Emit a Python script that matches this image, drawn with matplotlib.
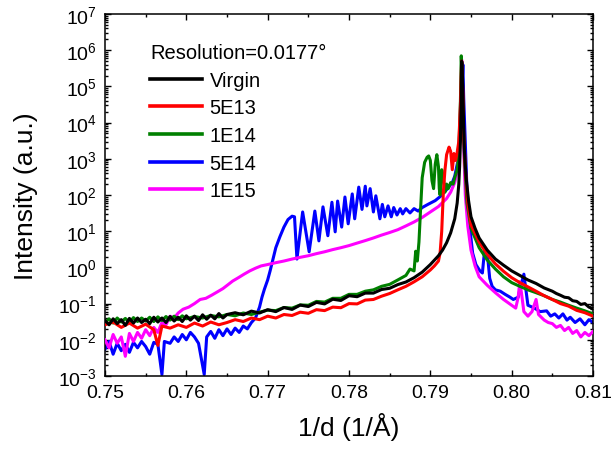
import matplotlib
matplotlib.use("Agg")
import matplotlib.pyplot as plt
from matplotlib.ticker import MultipleLocator, LogLocator, NullFormatter, FormatStrFormatter
from matplotlib.lines import Line2D

plt.rcParams['font.family'] = ['Liberation Sans', 'DejaVu Sans']
plt.rcParams['mathtext.fontset'] = 'custom'
plt.rcParams['mathtext.rm'] = 'Liberation Sans'
plt.rcParams['mathtext.it'] = 'Liberation Sans:italic'
plt.rcParams['axes.unicode_minus'] = False

labels = ["Virgin", "5E13", "1E14", "5E14", "1E15"]
colors = ["#000000", "#ff0000", "#008000", "#0000ff", "#ff00ff"]
legend_title = "Resolution=0.0177\u00b0"

# ---------------- Virgin (black) ----------------
x_virgin = [0.750, 0.7505, 0.751, 0.7515, 0.752, 0.7525, 0.753, 0.7535, 0.754, 0.7545,
            0.755, 0.7555, 0.756, 0.7565, 0.757, 0.7575, 0.758, 0.7585, 0.759, 0.7595,
            0.760, 0.7605, 0.761, 0.7615, 0.762, 0.7625, 0.763, 0.7635, 0.764, 0.7645,
            0.765, 0.766, 0.767, 0.768, 0.769,
            0.770, 0.771, 0.772, 0.773, 0.774, 0.775, 0.776, 0.777, 0.778, 0.779,
            0.780, 0.781, 0.782, 0.783, 0.784, 0.785, 0.786, 0.787, 0.788, 0.789,
            0.790, 0.791, 0.7915, 0.792, 0.7925, 0.793, 0.7933, 0.7935, 0.7936, 0.7937,
            0.7938, 0.79385, 0.7939, 0.7940, 0.7941, 0.7942, 0.7944, 0.7947, 0.795, 0.7955,
            0.796, 0.797, 0.798, 0.799, 0.800, 0.801, 0.802, 0.803, 0.804, 0.805,
            0.8055, 0.806, 0.8065, 0.807, 0.8075, 0.808, 0.8085, 0.809, 0.8095, 0.810]
y_virgin = [0.034, 0.026, 0.038, 0.028, 0.036, 0.025, 0.039, 0.029, 0.040, 0.030,
            0.037, 0.028, 0.042, 0.031, 0.040, 0.030, 0.044, 0.033, 0.042, 0.032,
            0.046, 0.035, 0.045, 0.034, 0.049, 0.037, 0.048, 0.038, 0.053, 0.040,
            0.050, 0.056, 0.049, 0.062, 0.055,
            0.068, 0.060, 0.078, 0.069, 0.091, 0.083, 0.108, 0.098, 0.132, 0.122,
            0.165, 0.155, 0.195, 0.195, 0.245, 0.265, 0.335, 0.395, 0.520, 0.740,
            1.200, 2.100, 3.000, 4.800, 9.000, 22.0, 60.0, 200.0, 600.0, 3000.0,
            60000.0, 500000.0, 450000.0, 80000.0, 8000.0, 1500.0, 300.0, 70.0, 25.0, 12.0,
            6.5, 3.0, 1.7, 1.15, 0.80, 0.60, 0.45, 0.36, 0.27, 0.22,
            0.19, 0.17, 0.15, 0.145, 0.12, 0.115, 0.095, 0.10, 0.080, 0.072]

# ---------------- 5E13 (red) ----------------
x_5e13 = [0.750, 0.751, 0.752, 0.753, 0.754, 0.755, 0.756, 0.7565, 0.757, 0.758,
          0.759, 0.760, 0.761, 0.762, 0.763, 0.764, 0.765, 0.766, 0.767, 0.768,
          0.769, 0.770, 0.771, 0.772, 0.773, 0.774, 0.775, 0.776, 0.777, 0.778,
          0.779, 0.780, 0.781, 0.782, 0.783, 0.784, 0.785, 0.786, 0.787, 0.788,
          0.789, 0.790, 0.7905, 0.791, 0.7912, 0.7914, 0.7916, 0.7918, 0.7920, 0.7923,
          0.7925, 0.7927, 0.7929, 0.7931, 0.7933, 0.7935, 0.7937, 0.79385, 0.7940, 0.7941,
          0.7943, 0.7946, 0.795, 0.796, 0.797, 0.798, 0.799, 0.800, 0.801, 0.802,
          0.803, 0.804, 0.805, 0.806, 0.807, 0.808, 0.809, 0.810]
y_5e13 = [0.026, 0.031, 0.022, 0.029, 0.021, 0.027, 0.019, 0.007, 0.024, 0.021,
          0.026, 0.022, 0.029, 0.024, 0.031, 0.026, 0.030, 0.036, 0.032, 0.040,
          0.036, 0.045, 0.040, 0.050, 0.047, 0.058, 0.054, 0.068, 0.064, 0.080,
          0.077, 0.100, 0.098, 0.125, 0.130, 0.160, 0.190, 0.240, 0.300, 0.400,
          0.550, 0.850, 1.100, 1.500, 2.500, 10.0, 120.0, 500.0, 1300.0, 2100.0,
          1600.0, 500.0, 1400.0, 900.0, 1500.0, 3000.0, 30000.0, 500000.0, 60000.0, 5000.0,
          600.0, 60.0, 15.0, 5.0, 2.3, 1.25, 0.78, 0.52, 0.38, 0.29,
          0.22, 0.165, 0.13, 0.10, 0.085, 0.065, 0.056, 0.045]

# ---------------- 1E14 (green) ----------------
x_1e14 = [0.750, 0.7505, 0.751, 0.7515, 0.752, 0.7525, 0.753, 0.7535, 0.754, 0.7545,
          0.755, 0.7555, 0.756, 0.7565, 0.757, 0.7575, 0.758, 0.7585, 0.759, 0.7595,
          0.760, 0.761, 0.762, 0.763, 0.764, 0.765, 0.766, 0.767, 0.768, 0.769,
          0.770, 0.771, 0.772, 0.773, 0.774, 0.775, 0.776, 0.777, 0.778, 0.779,
          0.780, 0.781, 0.782, 0.783, 0.784, 0.785, 0.786, 0.787, 0.7875, 0.788,
          0.7882, 0.7884, 0.7886, 0.7888, 0.7890, 0.7893, 0.7896, 0.7898, 0.7900, 0.7902,
          0.7904, 0.7906, 0.7908, 0.7910, 0.7911, 0.7912, 0.7914, 0.7916, 0.7918, 0.7920,
          0.7922, 0.7925, 0.7928, 0.7930, 0.7933, 0.7935, 0.7937, 0.7938, 0.7939, 0.7940,
          0.7942, 0.7945, 0.795, 0.796, 0.797, 0.798, 0.799, 0.800, 0.801, 0.802,
          0.803, 0.804, 0.805, 0.806, 0.807, 0.808, 0.809, 0.810]
y_1e14 = [0.030, 0.038, 0.029, 0.040, 0.031, 0.039, 0.030, 0.041, 0.032, 0.040,
          0.033, 0.042, 0.032, 0.043, 0.034, 0.044, 0.035, 0.045, 0.036, 0.046,
          0.038, 0.044, 0.040, 0.047, 0.043, 0.050, 0.046, 0.055, 0.050, 0.058,
          0.066, 0.064, 0.078, 0.075, 0.092, 0.090, 0.115, 0.110, 0.140, 0.140,
          0.180, 0.180, 0.220, 0.240, 0.300, 0.340, 0.450, 0.600, 0.900, 0.800,
          2.800, 1.500, 5.000, 40.0, 300.0, 800.0, 1100.0, 1200.0, 900.0, 250.0,
          150.0, 700.0, 1300.0, 600.0, 150.0, 100.0, 500.0, 300.0, 120.0, 200.0,
          150.0, 220.0, 200.0, 300.0, 500.0, 1500.0, 40000.0, 700000.0, 200000.0, 20000.0,
          1000.0, 60.0, 12.0, 3.5, 1.6, 0.9, 0.55, 0.38, 0.30, 0.24,
          0.20, 0.165, 0.13, 0.11, 0.09, 0.075, 0.063, 0.052]

# ---------------- 5E14 (blue) ----------------
x_5e14 = [0.7500, 0.7505, 0.7510, 0.7515, 0.7520, 0.7525, 0.7530, 0.7535, 0.7540, 0.7545,
          0.7550, 0.7555, 0.7560, 0.7565, 0.7570, 0.7573, 0.7580, 0.7585, 0.7590, 0.7595,
          0.7600, 0.7605, 0.7610, 0.7615, 0.7622, 0.7625, 0.7630, 0.7635, 0.7640, 0.7645,
          0.7650, 0.7655, 0.7660, 0.7665, 0.7670, 0.7675, 0.7680, 0.7685, 0.7690, 0.7693,
          0.7696, 0.7700, 0.7703, 0.7706, 0.7710, 0.7715, 0.7720, 0.7725, 0.7730, 0.7733,
          0.7736, 0.7743, 0.7751, 0.7758, 0.7763, 0.7768, 0.7774, 0.7779, 0.7783, 0.7786,
          0.7791, 0.7795, 0.7799, 0.7804, 0.7807, 0.7812, 0.7816, 0.7820, 0.7822, 0.7826,
          0.7830, 0.7833, 0.7838, 0.7841, 0.7844, 0.7848, 0.7852, 0.7855, 0.7859, 0.7863,
          0.7866, 0.7870, 0.7875, 0.7880, 0.7885, 0.7890, 0.7897, 0.7906, 0.7912, 0.7920,
          0.7927, 0.7930, 0.7934, 0.7937, 0.7939, 0.7940, 0.7941, 0.7943, 0.7945, 0.7949,
          0.7952, 0.7956, 0.7961, 0.7964, 0.7967, 0.7970, 0.7973, 0.7976, 0.7980, 0.7986,
          0.7992, 0.7998, 0.8002, 0.8008, 0.8011, 0.8015, 0.8017, 0.8020, 0.8028, 0.8035,
          0.8043, 0.8048, 0.8053, 0.8058, 0.8063, 0.8068, 0.8072, 0.8078, 0.8084, 0.8090,
          0.8095, 0.8100]
y_5e14 = [0.0055, 0.0090, 0.0040, 0.0080, 0.0050, 0.0075, 0.0045, 0.0085, 0.0060, 0.0090,
          0.0065, 0.0040, 0.0085, 0.0075, 0.0011, 0.0090, 0.0080, 0.0120, 0.0090, 0.0140,
          0.0100, 0.0160, 0.0120, 0.0080, 0.0011, 0.0120, 0.0170, 0.0110, 0.0190, 0.0130,
          0.0200, 0.0140, 0.0210, 0.0160, 0.0240, 0.0200, 0.0300, 0.0400, 0.0800, 0.1500,
          0.2500, 0.4500, 0.8000, 1.5000, 3.5, 7.0, 13.0, 21.0, 26.0, 25.0,
          1.7, 34.0, 2.7, 36.0, 5.4, 47.0, 7.5, 63.0, 9.6, 68.0,
          13.0, 88.0, 16.0, 107.0, 22.0, 165.0, 40.0, 175.0, 50.0, 150.0,
          34.0, 95.0, 22.0, 55.0, 25.0, 50.0, 25.0, 45.0, 28.0, 42.0,
          30.0, 42.0, 32.0, 42.0, 36.0, 45.0, 55.0, 70.0, 90.0, 140.0,
          220.0, 330.0, 900.0, 5000.0, 100000.0, 400000.0, 50000.0, 3000.0, 150.0, 10.0,
          2.5, 1.2, 0.8, 0.7, 3.5, 2.5, 0.5, 0.3, 0.24, 0.22,
          0.18, 0.15, 0.13, 0.15, 0.30, 0.65, 0.30, 0.09, 0.075, 0.060,
          0.063, 0.045, 0.052, 0.040, 0.052, 0.035, 0.042, 0.030, 0.038, 0.026,
          0.036, 0.030]

# ---------------- 1E15 (magenta) ----------------
x_1e15 = [0.7500, 0.7505, 0.7510, 0.7515, 0.7520, 0.7525, 0.7530, 0.7535, 0.7540, 0.7545,
          0.7550, 0.7555, 0.7560, 0.7565, 0.7570, 0.7575, 0.7580, 0.7585, 0.7590, 0.7596,
          0.7603, 0.7610, 0.7617, 0.7624, 0.7631, 0.7638, 0.7645, 0.7651, 0.7657, 0.7664,
          0.7671, 0.7678, 0.7685, 0.7692, 0.7700, 0.7710, 0.7720, 0.7730, 0.7740, 0.7750,
          0.7760, 0.7770, 0.7780, 0.7790, 0.7800, 0.7810, 0.7820, 0.7830, 0.7840, 0.7850,
          0.7860, 0.7870, 0.7880, 0.7890, 0.7900, 0.7910, 0.7920, 0.7925, 0.7930, 0.7933,
          0.7935, 0.7937, 0.79385, 0.7940, 0.7941, 0.7943, 0.7946, 0.7950, 0.7955, 0.7960,
          0.7970, 0.7980, 0.7990, 0.8000, 0.8005, 0.8008, 0.8010, 0.8012, 0.8015, 0.8020,
          0.8025, 0.8030, 0.8033, 0.8040, 0.8045, 0.8050, 0.8055, 0.8060, 0.8065, 0.8070,
          0.8075, 0.8080, 0.8085, 0.8090, 0.8095, 0.8100]
y_1e15 = [0.010, 0.006, 0.014, 0.008, 0.012, 0.0035, 0.015, 0.009, 0.016, 0.011,
          0.019, 0.013, 0.022, 0.016, 0.030, 0.026, 0.045, 0.040, 0.055, 0.070,
          0.080, 0.100, 0.130, 0.140, 0.170, 0.210, 0.260, 0.330, 0.420, 0.520,
          0.650, 0.800, 0.950, 1.100, 1.200, 1.350, 1.500, 1.700, 1.900, 2.100,
          2.400, 2.700, 3.100, 3.500, 4.000, 4.700, 5.500, 6.500, 7.800, 9.200,
          11.0, 14.0, 18.0, 24.0, 34.0, 48.0, 80.0, 120.0, 220.0, 450.0,
          1500.0, 20000.0, 550000.0, 50000.0, 2000.0, 100.0, 14.0, 3.0, 1.1, 0.55,
          0.32, 0.20, 0.13, 0.09, 0.075, 0.15, 0.40, 0.20, 0.060, 0.045,
          0.060, 0.130, 0.050, 0.035, 0.030, 0.028, 0.022, 0.025, 0.018, 0.022,
          0.015, 0.018, 0.012, 0.016, 0.013, 0.017]

series_x = [x_virgin, x_5e13, x_1e14, x_5e14, x_1e15]
series_y = [y_virgin, y_5e13, y_1e14, y_5e14, y_1e15]
zorders = [6, 5, 4, 2, 3]

fig = plt.figure(figsize=(6.11, 4.52), dpi=100)
ax = fig.add_axes([105/611, 75/452, 488/611, 362/452])

for xs, ys, c, lab, z in zip(series_x, series_y, colors, labels, zorders):
    ax.plot(xs, ys, color=c, lw=2.2, label=lab, zorder=z, solid_joinstyle='round')

ax.set_yscale('log')
ax.set_xlim(0.75, 0.81)
ax.set_ylim(1e-3, 1e7)
ax.xaxis.set_major_locator(MultipleLocator(0.01))
ax.xaxis.set_minor_locator(MultipleLocator(0.005))
ax.xaxis.set_major_formatter(FormatStrFormatter('%.2f'))
ax.yaxis.set_major_locator(LogLocator(base=10, numticks=20))
ax.yaxis.set_minor_locator(LogLocator(base=10, subs=range(2, 10), numticks=20))
ax.yaxis.set_minor_formatter(NullFormatter())

ax.tick_params(which='both', direction='in', top=True, right=True, width=1.0)
ax.tick_params(which='major', length=4.5, labelsize=14, pad=6)
ax.tick_params(which='minor', length=2.3)
for s in ax.spines.values():
    s.set_linewidth(1.1)

ax.set_xlabel("1/d (1/\u00c5)", fontsize=19, labelpad=8)
ax.set_ylabel("Intensity (a.u.)", fontsize=19, labelpad=14)

handles = [Line2D([0], [0], color=c, lw=2.6) for c in colors]
leg = ax.legend(handles, labels, title=legend_title, loc='upper left',
                bbox_to_anchor=(150/611, 1 - 44/452), bbox_transform=fig.transFigure,
                frameon=False, fontsize=14.5, title_fontsize=14.5,
                handlelength=2.6, handletextpad=0.35, labelspacing=0.43,
                borderpad=0, borderaxespad=0, alignment='left')

fig.savefig("out.png", dpi=100)
